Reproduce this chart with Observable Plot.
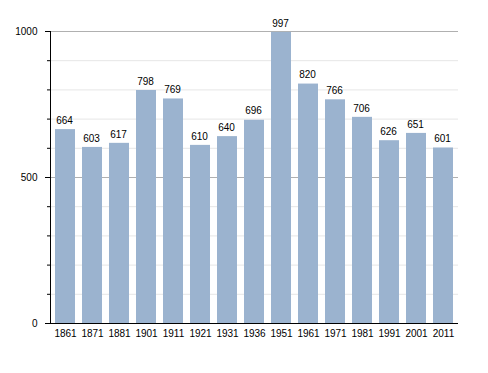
<!DOCTYPE html>
<html>
<head>
<meta charset="utf-8">
<script src="https://cdn.jsdelivr.net/npm/d3@7"></script>
<script src="https://cdn.jsdelivr.net/npm/@observablehq/plot@0.6"></script>
<style>
  body { margin: 0; background: #fff; }
  svg { font-family: "Liberation Sans", Arial, sans-serif; }
</style>
</head>
<body>
<div id="chart"></div>
<script>
const years = ["1861","1871","1881","1901","1911","1921","1931","1936","1951","1961","1971","1981","1991","2001","2011"];
const population = [664,603,617,798,769,610,640,696,997,820,766,706,626,651,601];
const majorTicks = [0, 500, 1000];
const minorTicks = [100, 200, 300, 400, 600, 700, 800, 900];

const data = years.map((y, i) => ({year: y, value: population[i]}));

const chart = Plot.plot({
  width: 488,
  height: 373,
  marginLeft: 50,
  marginRight: 30,
  marginTop: 31,
  marginBottom: 50,
  style: {fontSize: "10px", fontFamily: "'Liberation Sans', Arial, sans-serif", color: "#000", background: "#fff"},
  x: {domain: years, paddingInner: 0.25, paddingOuter: 0, label: null},
  y: {domain: [0, 1000], label: null},
  marks: [
    Plot.gridY(minorTicks, {stroke: "#e6e6e6", strokeOpacity: 1}),
    Plot.gridY([500, 1000], {stroke: "#b0b0b0", strokeOpacity: 1}),
    Plot.barY(data, {x: "year", y: "value", fill: "#9bb3cf"}),
    Plot.text(data, {x: "year", y: "value", text: d => String(d.value), dy: -9, dx: -1, fill: "#000", fontSize: 10}),
    Plot.axisY(minorTicks, {tickSize: 3, text: null, stroke: "#000"}),
    Plot.axisY(majorTicks, {tickSize: 5, tickPadding: 8, stroke: "#000", fill: "#000", tickFormat: d => String(d)}),
    Plot.frame({anchor: "left", stroke: "#000"}),
    Plot.axisX({tickSize: 0, tickPadding: 6, fill: "#000"}),
    Plot.ruleY([0], {stroke: "#000"})
  ]
});
document.getElementById("chart").appendChild(chart);
</script>
</body>
</html>
